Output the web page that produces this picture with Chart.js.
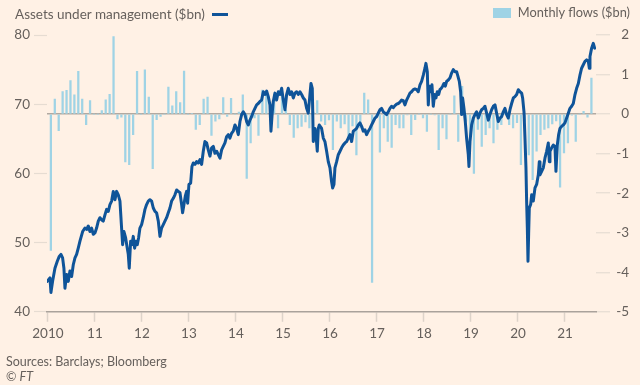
<!DOCTYPE html>
<html><head><meta charset="utf-8">
<script src="https://cdn.jsdelivr.net/npm/chart.js@4"></script>
<style>
html,body{margin:0;padding:0;background:#FFF1E5;}
#wrap{position:relative;width:640px;height:385px;font-family:Lato,sans-serif;color:#66605C;overflow:hidden;}
canvas{position:absolute;left:0;top:0;}
.t{position:absolute;white-space:nowrap;font-size:13.5px;line-height:18px;}
.sw-line{display:inline-block;width:16px;height:3px;background:#0f5499;vertical-align:middle;margin-left:7px;position:relative;top:-1px;}
.sw-box{display:inline-block;width:18px;height:10px;background:#9fd3e5;vertical-align:middle;margin-right:7px;position:relative;top:-1px;}
</style></head>
<body><div id="wrap">
<canvas id="c" width="640" height="385"></canvas>
<div class="t" style="left:15px;top:5px">Assets under management ($bn)<span class="sw-line"></span></div>
<div class="t" style="right:10px;top:3px;font-size:12.8px"><span class="sw-box"></span>Monthly flows ($bn)</div>
<div class="t" style="left:6px;top:353px;font-size:12.5px">Sources: Barclays; Bloomberg</div>
<div class="t" style="left:6px;top:368px;font-size:12.5px">© <i>FT</i></div>
</div>
<script>
// Tick labels for the year axis
const yearTicks = [2010,2011,2012,2013,2014,2015,2016,2017,2018,2019,2020,2021];
const yearLabels = ['2010','11','12','13','14','15','16','17','18','19','20','21'];

// Monthly flows ($bn), one value per month starting Jan 2010
const FLOW_START = 2010;
const flows = [
 -3.45,0.38,-0.42,0.57,0.60,0.85,0.49,1.08,0.38,-0.27,0.34,0,
 0,0.09,0.36,0.50,1.96,-0.12,-0.08,-1.21,-1.28,-0.52,1.08,0,
 1.12,0.43,-1.38,-0.14,-0.06,0,0.68,0.21,0.57,0.29,1.09,0,
 0.02,-0.39,-0.27,0.38,0.43,-0.54,-0.18,-0.12,0.42,-0.06,0.40,0,
 0.05,0.49,-1.63,-0.73,-0.10,-0.54,0.61,0.57,0.20,0.50,-0.35,0.45,
 0.10,-0.27,-0.59,-0.35,-0.31,-0.20,-0.35,0.05,0.34,-0.18,-0.27,-0.15,
 -0.90,-0.18,-0.35,-0.25,-0.60,-0.30,-1.03,-0.35,0.53,0.36,-4.26,-0.10,
 -0.96,-0.35,-0.69,-0.84,-0.27,-0.35,-0.35,-0.02,-0.52,-0.14,0,-0.10,
 -0.44,0,-0.02,-0.90,-0.35,-0.63,0,0.46,-0.69,0.70,-0.18,-0.77,
 -1.50,-0.39,-0.82,-0.52,-0.35,-0.73,-0.39,-0.27,0,-0.27,-0.35,-0.22,
 -1.28,-0.18,-1.03,-1.66,-0.94,-0.52,-0.39,-0.35,-0.25,-0.17,-1.85,-0.98,
 -0.73,-0.03,-0.69,0,0.07,-0.08,0.91
];

// Assets under management ($bn): dates (decimal years) and values
const aumDates = [
 2009.986,2010.043,2010.064,2010.099,2010.149,2010.199,2010.241,2010.277,2010.312,2010.340,2010.362,2010.397,2010.433,2010.468,2010.504,2010.539,2010.575,2010.610,2010.645,2010.681,2010.738,2010.787,2010.823,2010.858,2010.894,2010.929,2010.965,
 2011.000,2011.035,2011.071,2011.106,2011.142,2011.177,2011.213,2011.248,2011.284,2011.319,2011.355,2011.390,2011.426,2011.461,2011.497,2011.532,2011.567,2011.589,2011.617,2011.652,2011.688,2011.709,2011.730,2011.759,2011.787,2011.815,2011.844,2011.872,2011.901,2011.929,2011.957,2011.993,
 2012.028,2012.064,2012.099,2012.135,2012.170,2012.206,2012.241,2012.277,2012.312,2012.348,2012.383,2012.418,2012.454,2012.489,2012.525,2012.560,2012.596,2012.631,2012.667,2012.702,2012.738,2012.773,2012.809,2012.844,2012.865,2012.894,2012.922,2012.950,2012.972,
 2013.000,2013.036,2013.064,2013.092,2013.128,2013.163,2013.199,2013.234,2013.270,2013.305,2013.340,2013.376,2013.411,2013.447,2013.482,2013.518,2013.553,2013.589,2013.624,2013.660,2013.695,2013.730,2013.766,2013.801,2013.837,2013.872,2013.908,2013.943,2013.979,
 2014.014,2014.050,2014.085,2014.121,2014.156,2014.191,2014.227,2014.262,2014.298,2014.333,2014.369,2014.404,2014.440,2014.475,2014.511,2014.546,2014.582,2014.617,2014.652,2014.688,2014.723,2014.745,2014.773,2014.794,2014.830,2014.865,2014.901,2014.936,2014.972,
 2015.007,2015.043,2015.078,2015.113,2015.149,2015.184,2015.220,2015.255,2015.291,2015.326,2015.362,2015.397,2015.433,2015.468,2015.504,2015.539,2015.574,2015.596,2015.624,2015.645,2015.681,2015.702,2015.730,2015.752,2015.773,2015.822,2015.858,2015.893,2015.929,2015.964,
 2016.000,2016.035,2016.057,2016.085,2016.106,2016.142,2016.177,2016.213,2016.248,2016.283,2016.319,2016.354,2016.390,2016.425,2016.461,2016.496,2016.532,2016.567,2016.603,2016.638,2016.674,2016.709,2016.744,2016.780,2016.815,2016.851,2016.886,2016.922,2016.957,2016.993,
 2017.028,2017.064,2017.099,2017.135,2017.170,2017.206,2017.241,2017.276,2017.312,2017.347,2017.383,2017.418,2017.454,2017.489,2017.525,2017.560,2017.596,2017.631,2017.667,2017.702,2017.737,2017.773,2017.808,2017.844,2017.879,2017.915,2017.950,2017.986,
 2018.021,2018.042,2018.071,2018.092,2018.113,2018.142,2018.170,2018.198,2018.227,2018.255,2018.283,2018.312,2018.340,2018.369,2018.397,2018.425,2018.454,2018.482,2018.518,2018.553,2018.588,2018.624,2018.659,2018.695,2018.716,2018.752,2018.780,2018.801,2018.822,2018.851,2018.879,2018.907,2018.943,2018.957,2018.979,
 2019.014,2019.050,2019.085,2019.120,2019.156,2019.191,2019.227,2019.262,2019.298,2019.333,2019.369,2019.404,2019.440,2019.475,2019.511,2019.546,2019.581,2019.617,2019.652,2019.688,2019.723,2019.759,2019.794,2019.830,2019.865,2019.901,2019.936,2019.972,
 2020.007,2020.042,2020.078,2020.099,2020.128,2020.149,2020.170,2020.184,2020.199,2020.213,2020.227,2020.241,2020.270,2020.291,2020.326,2020.362,2020.397,2020.433,2020.454,2020.468,2020.504,2020.539,2020.574,2020.610,2020.645,2020.667,2020.681,2020.716,2020.752,2020.787,2020.808,2020.837,2020.865,2020.894,2020.929,2020.964,
 2021.000,2021.035,2021.071,2021.106,2021.142,2021.177,2021.213,2021.248,2021.284,2021.319,2021.354,2021.390,2021.425,2021.461,2021.496,2021.518,2021.532,2021.567,2021.603,2021.631
];
const aumValues = [
 44.4,44.9,42.8,44.4,46.3,47.3,48.0,48.3,47.8,46.3,43.4,45.4,44.4,45.9,45.1,46.8,47.8,48.3,49.2,50.2,51.6,52.1,51.9,52.4,51.6,52.1,51.2,
 51.4,52.1,53.1,53.6,53.3,53.1,54.0,54.8,54.5,55.5,56.0,57.4,56.2,57.4,56.9,56.0,52.1,49.7,51.6,50.7,49.2,48.3,46.3,50.2,49.7,50.9,49.2,50.2,49.7,50.7,52.1,52.6,
 53.6,54.8,55.5,56.0,56.2,56.0,55.0,54.5,54.3,53.1,50.9,52.1,52.6,53.1,53.6,54.3,55.0,56.0,56.4,56.9,57.6,57.4,57.2,55.5,54.3,55.5,56.7,57.4,55.7,
 58.4,58.6,61.0,61.5,61.3,61.7,61.5,62.0,61.3,63.2,64.6,64.4,63.4,62.5,63.7,63.9,62.9,63.2,62.7,62.2,63.4,63.9,64.4,65.3,65.6,65.1,65.8,66.1,67.0,
 66.5,65.6,67.5,68.5,68.9,68.5,67.5,67.0,67.7,68.2,68.9,69.4,69.9,70.1,70.4,70.6,71.8,71.4,71.9,71.1,69.9,66.1,68.9,70.4,71.6,70.6,71.8,71.4,72.3,
 70.6,69.2,71.4,72.3,71.4,71.8,70.9,71.6,71.8,71.4,71.8,71.4,70.9,70.6,69.4,68.7,71.4,73.0,72.3,64.6,66.5,65.6,63.2,66.5,67.0,66.5,65.1,64.6,63.2,61.7,
 60.8,58.8,57.9,58.4,60.8,61.7,62.7,63.2,63.7,64.1,64.4,64.6,65.1,65.6,64.6,66.1,66.3,66.5,67.0,67.3,66.8,66.1,66.3,65.6,66.1,66.5,67.0,67.5,68.0,68.2,
 68.7,69.2,69.4,68.9,68.7,68.5,68.9,69.4,69.7,69.5,69.8,70.0,70.1,70.3,70.6,70.5,69.9,70.6,71.1,71.6,71.8,72.1,72.2,72.1,71.8,72.8,73.3,74.2,
 75.2,75.9,74.7,69.9,72.6,71.8,72.8,69.7,71.4,70.9,71.8,71.4,72.1,72.3,72.6,73.0,72.6,73.3,73.5,73.8,74.5,75.0,74.7,74.7,74.2,73.3,71.8,68.5,70.9,69.4,67.5,65.1,62.7,61.0,64.6,
 67.0,68.0,68.5,68.9,68.0,68.7,69.2,69.4,69.7,68.7,67.7,68.5,69.2,69.7,69.9,68.7,67.5,68.0,68.2,68.9,69.4,68.5,68.0,69.2,70.1,70.9,71.1,71.4,
 72.1,71.8,71.6,70.9,68.9,65.1,60.8,56.0,52.1,47.3,51.2,55.0,55.5,56.9,56.0,57.9,58.4,59.8,61.7,59.8,60.3,60.8,62.2,63.2,64.4,61.7,63.2,63.7,64.1,63.9,60.3,64.1,65.6,66.5,66.8,67.0,
 67.3,68.0,68.7,69.4,69.7,70.1,71.4,72.3,73.0,74.2,75.2,75.7,76.2,76.4,76.2,75.2,76.9,78.1,78.8,78.1
];

const TXT = '#66605C';
const FONT = {family: 'Lato, sans-serif', size: 13.5};

new Chart(document.getElementById('c'), {
  type: 'bar',
  data: {
    datasets: [
      {
        type: 'line',
        label: 'Assets under management ($bn)',
        data: aumDates.map((d, i) => ({x: d, y: aumValues[i]})),
        yAxisID: 'yL',
        borderColor: '#0f5499',
        borderWidth: 3,
        pointRadius: 0,
        tension: 0,
        borderJoinStyle: 'round',
        borderCapStyle: 'round',
        order: 0
      },
      {
        type: 'bar',
        label: 'Monthly flows ($bn)',
        data: flows.map((v, i) => ({x: FLOW_START + (i + 0.75) / 12, y: v})),
        yAxisID: 'yR',
        backgroundColor: '#9fd3e5',
        barThickness: 1.6,
        order: 1
      }
    ]
  },
  options: {
    responsive: false,
    animation: false,
    plugins: {legend: {display: false}, tooltip: {enabled: false}},
    layout: {padding: {top: 35, bottom: 39, left: 0, right: 11}},
    scales: {
      x: {
        type: 'linear', min: 2009.98, max: 2021.66, offset: false,
        afterBuildTicks: ax => { ax.ticks = yearTicks.map(v => ({value: v})); },
        ticks: {callback: (v, i) => yearLabels[i], color: TXT, font: FONT, padding: 4, maxRotation: 0, autoSkip: false},
        grid: {offset: false, drawOnChartArea: false, drawTicks: true, tickLength: 10, tickColor: '#ddd3c9', tickWidth: 1.5},
        border: {display: true, color: '#aaa29b', width: 1.5}
      },
      yL: {
        position: 'left', min: 40, max: 80,
        ticks: {stepSize: 10, padding: 4, color: TXT, font: FONT},
        grid: {drawOnChartArea: false, tickLength: 13, tickColor: '#e6dcd2', tickWidth: 1.2},
        border: {display: false},
        afterFit: s => { s.width = 47; }
      },
      yR: {
        position: 'right', min: -5, max: 2,
        ticks: {stepSize: 1, padding: 4, crossAlign: 'far', color: TXT, font: FONT},
        grid: {
          drawOnChartArea: true,
          color: c => (c.tick && c.tick.value === 0) ? '#b2a9a1' : 'rgba(0,0,0,0)',
          lineWidth: 1.5,
          tickLength: 14, tickColor: '#e6dcd2', tickWidth: 1.2
        },
        border: {display: false},
        afterFit: s => { s.width = 33; }
      }
    }
  }
});
</script>
</body></html>
